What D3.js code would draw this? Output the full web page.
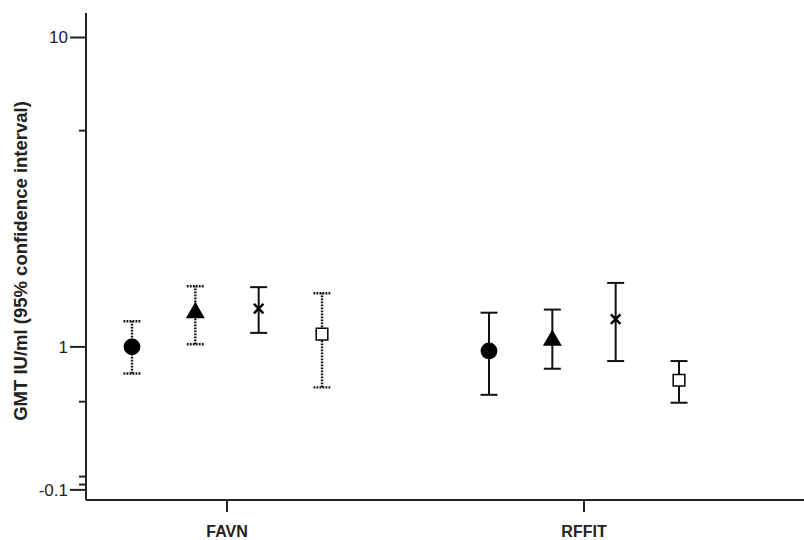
<!DOCTYPE html>
<html>
<head>
<meta charset="utf-8">
<script src="https://cdn.jsdelivr.net/npm/d3@7"></script>
<style>
  body { margin: 0; background: #fff; }
  svg { display: block; font-family: "Liberation Sans", Arial, sans-serif; }
</style>
</head>
<body>
<svg id="chart" width="804" height="540"></svg>
<script>
// categories on the x axis, four groups (markers) per category
var categories = ["FAVN", "RFFIT"];
var groups = ["circle", "triangle", "cross", "square"];

// GMT and 95% CI, in group order
var favnGmt   = [1.00, 1.29, 1.33, 1.10];
var favnLow   = [0.82, 1.02, 1.11, 0.74];
var favnHigh  = [1.21, 1.57, 1.56, 1.49];
var rffitGmt  = [0.97, 1.05, 1.23, 0.78];
var rffitLow  = [0.70, 0.85, 0.90, 0.66];
var rffitHigh = [1.29, 1.32, 1.61, 0.90];

// y axis ticks (the original axis is broken near the bottom)
var yMajorTicks  = [10, 1, 0.345];
var yMajorLabels = ["10", "1", "-0.1"];
var yMinorTicks  = [5, 0.665, 0.381, 0.359];

var rows = [];
categories.forEach(function (c, ci) {
  var g = ci === 0 ? favnGmt : rffitGmt;
  var lo = ci === 0 ? favnLow : rffitLow;
  var hi = ci === 0 ? favnHigh : rffitHigh;
  groups.forEach(function (s, si) {
    rows.push({cat: c, grp: s, gmt: g[si], low: lo[si], high: hi[si]});
  });
});

// dotted bars in the FAVN panel, except the cross
function isDotted(d) { return d.cat === "FAVN" && d.grp !== "cross"; }

var svg = d3.select("#chart");
var axisX = 86, axisY = 500;

var y = d3.scaleLog().domain([0.32, 12]).range([axisY, 13]);
var x = d3.scalePoint().domain(categories).range([227, 584]);
var off = d3.scalePoint().domain(groups).range([-95, 95]);

// y axis
var yAxis = svg.append("g").attr("transform", "translate(" + axisX + ",0)");
yAxis.append("line")
  .attr("x1", 0).attr("x2", 0).attr("y1", y.range()[1]).attr("y2", axisY)
  .attr("stroke", "#222").attr("stroke-width", 2);
yAxis.selectAll(".major").data(yMajorTicks).enter().append("line")
  .attr("class", "major")
  .attr("x1", -16).attr("x2", 0)
  .attr("y1", function (d) { return y(d); }).attr("y2", function (d) { return y(d); })
  .attr("stroke", "#222").attr("stroke-width", 2);
yAxis.selectAll(".minor").data(yMinorTicks).enter().append("line")
  .attr("class", "minor")
  .attr("x1", -7).attr("x2", 0)
  .attr("y1", function (d) { return y(d); }).attr("y2", function (d) { return y(d); })
  .attr("stroke", "#222").attr("stroke-width", 2);
yAxis.selectAll(".lbl").data(yMajorTicks).enter().append("text")
  .attr("class", "lbl")
  .attr("x", -18)
  .attr("y", function (d) { return y(d); })
  .attr("dy", "0.35em")
  .attr("text-anchor", "end")
  .attr("font-size", 17)
  .attr("fill", "#222")
  .text(function (d, i) { return yMajorLabels[i]; });

// x axis
svg.append("line")
  .attr("x1", axisX).attr("x2", 804).attr("y1", axisY).attr("y2", axisY)
  .attr("stroke", "#222").attr("stroke-width", 2);
var xAxis = svg.append("g").attr("transform", "translate(0," + axisY + ")");
xAxis.selectAll("line.tk").data(categories).enter().append("line")
  .attr("class", "tk")
  .attr("x1", function (d) { return x(d); }).attr("x2", function (d) { return x(d); })
  .attr("y1", 0).attr("y2", 12)
  .attr("stroke", "#222").attr("stroke-width", 2);
xAxis.selectAll("text").data(categories).enter().append("text")
  .attr("x", function (d) { return x(d); })
  .attr("y", 37)
  .attr("text-anchor", "middle")
  .attr("font-size", 16)
  .attr("font-weight", "bold")
  .attr("fill", "#222")
  .text(function (d) { return d; });

// y title
svg.append("text")
  .attr("transform", "translate(27,261) rotate(-90)")
  .attr("text-anchor", "middle")
  .attr("font-size", 18.5)
  .attr("font-weight", "bold")
  .attr("fill", "#222")
  .text("GMT IU/ml (95% confidence interval)");

// error bars
var px = function (d) { return x(d.cat) + off(d.grp); };
var bars = svg.append("g").selectAll("g").data(rows).enter().append("g")
  .attr("stroke", "#111")
  .attr("stroke-width", function (d) { return isDotted(d) ? 2.4 : 2; })
  .attr("stroke-dasharray", function (d) { return isDotted(d) ? "1.8,1.2" : null; });
bars.append("line")
  .attr("x1", px).attr("x2", px)
  .attr("y1", function (d) { return y(d.low); })
  .attr("y2", function (d) { return y(d.high); });
bars.append("line")
  .attr("x1", function (d) { return px(d) - 8.5; }).attr("x2", function (d) { return px(d) + 8.5; })
  .attr("y1", function (d) { return y(d.high); }).attr("y2", function (d) { return y(d.high); });
bars.append("line")
  .attr("x1", function (d) { return px(d) - 8.5; }).attr("x2", function (d) { return px(d) + 8.5; })
  .attr("y1", function (d) { return y(d.low); }).attr("y2", function (d) { return y(d.low); });

// markers
var symType = {circle: d3.symbolCircle, triangle: d3.symbolTriangle, cross: d3.symbolTimes, square: d3.symbolSquare};
var symSize = {circle: 220, triangle: 155, cross: 60, square: 135};
svg.append("g").selectAll("path").data(rows).enter().append("path")
  .attr("transform", function (d) { return "translate(" + px(d) + "," + y(d.gmt) + ")"; })
  .attr("d", function (d) { return d3.symbol().type(symType[d.grp]).size(symSize[d.grp])(); })
  .attr("fill", function (d) { return d.grp === "square" ? "#fff" : d.grp === "cross" ? "none" : "#000"; })
  .attr("stroke", "#000")
  .attr("stroke-width", function (d) { return d.grp === "cross" ? 2.5 : d.grp === "square" ? 1.5 : 0; });
</script>
</body>
</html>
